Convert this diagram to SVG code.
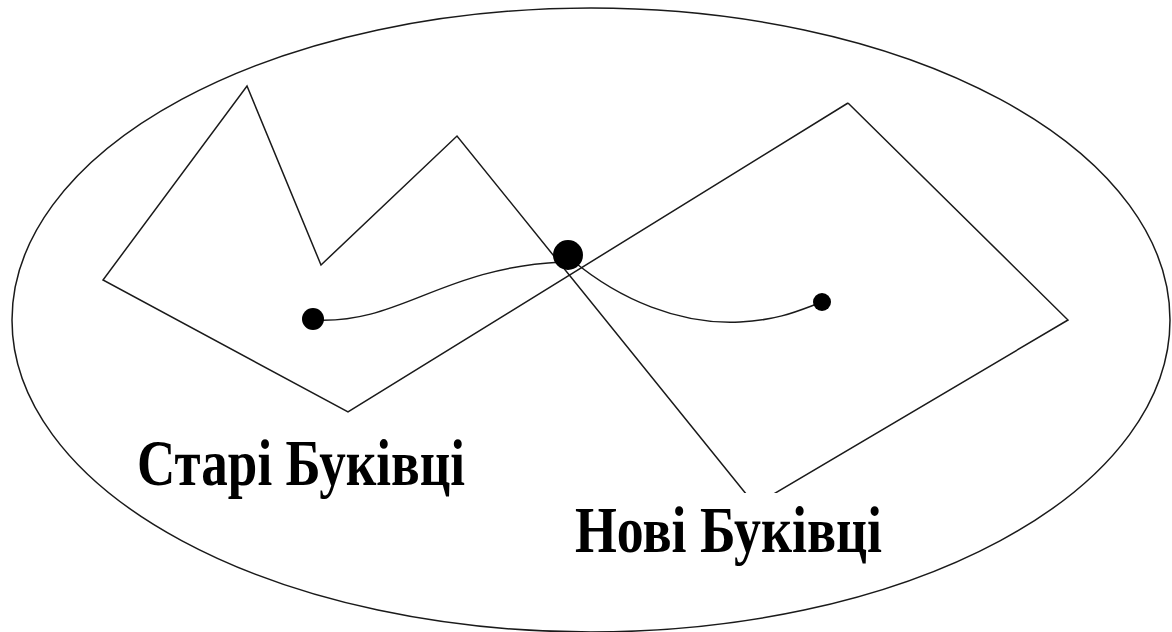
<svg xmlns="http://www.w3.org/2000/svg" width="1172" height="632" viewBox="0 0 1172 632">
<style>
.ln{fill:none;stroke:#1a1a1a;stroke-width:1.5;stroke-linejoin:miter}
.dot{fill:#000}
.box{fill:#fff}
.lbl{font-family:"Liberation Serif","Times New Roman",serif;font-weight:bold;font-size:66px;fill:#000}
</style>
<rect width="1172" height="632" fill="#fff"/>
<g id="field">
<ellipse class="ln" cx="591" cy="320" rx="579" ry="312"/>
</g>
<g id="connectors">
<polyline class="ln" points="848,103 348,412 103,280 247,86 321,265 457,136 755,505 1068,320 848,103"/>
<path class="ln" d="M313,320 C400,325 440,268 562,262"/>
<path class="ln" d="M572,260 C620,300 680,325 740,322 C780,320 800,310 822,302"/>
</g>
<g id="node-center"><circle class="dot" cx="568" cy="255" r="15"/></g>
<g id="node-left"><circle class="dot" cx="313" cy="319" r="11"/></g>
<g id="node-right"><circle class="dot" cx="822" cy="302" r="9"/></g>
<g id="label-old">
<rect class="box" x="118" y="414" width="379" height="82"/>
<text class="lbl" x="137" y="485" textLength="328" lengthAdjust="spacingAndGlyphs">Старі Букiвці</text>
</g>
<g id="label-new">
<rect class="box" x="553" y="493" width="340" height="89"/>
<text class="lbl" x="575" y="552" textLength="307" lengthAdjust="spacingAndGlyphs">Нові Букiвці</text>
</g>
</svg>
